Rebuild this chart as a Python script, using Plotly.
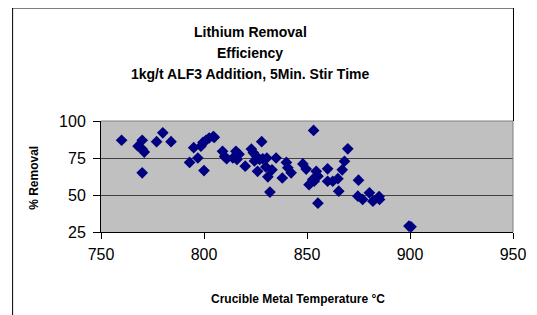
import plotly.graph_objects as go

# Crucible metal temperature (°C)
temperature = [
    760, 770, 768, 770, 771, 770, 777, 780, 784,
    793, 795, 797, 800, 798.5, 799.5, 801, 802.5, 804.5, 805,
    809, 810, 811, 814, 815.5, 817, 816, 820,
    823, 824, 825.5, 824.5, 827, 828.5, 830.5, 828, 826, 830, 831, 833, 835, 832,
    838, 840, 840.7, 842.3,
    848, 849.6, 851, 852.8, 853.5, 854.5, 855.3, 853.2, 855.3,
    860, 860, 862.5, 865, 865.4, 867.1, 868.2, 869.8,
    875, 874.7, 877, 880.3, 882, 885, 885.2,
    899.5, 900.5,
]
# Lithium removal efficiency (%)
removal = [
    87, 87, 83, 81, 79, 65, 86, 92, 86,
    72, 82, 75, 66.5, 83, 85.5, 87, 88.5, 89.5, 89,
    79.5, 76, 74.5, 75, 79.5, 77.5, 74, 69.5,
    81, 78.5, 76, 73, 74, 74.5, 75, 86, 66, 69, 62.3, 67, 75, 52,
    61.5, 72, 68.4, 65,
    71, 67.5, 57, 60.5, 59.3, 66, 62.7, 93.6, 44.5,
    67.7, 59.3, 59.3, 61, 52.6, 67, 72.8, 81.2,
    60, 49.2, 47, 51.5, 45.8, 49, 47,
    29, 28.5,
]

x_ticks = [750, 800, 850, 900, 950]
y_ticks = [25, 50, 75, 100]

title_lines = ["Lithium Removal", "Efficiency", "1kg/t ALF3 Addition, 5Min. Stir Time"]
x_title = "Crucible Metal Temperature °C"
y_title = "% Removal"

FONT = "Liberation Sans, Arial, sans-serif"

# The page body has an 8px margin; the figure is sized to fit the window.
OFF = 8
W, H = 537 - OFF, 315 - OFF
L, T = 101 - OFF, 121 - OFF
R = W - (513.5 - OFF)
B = H - (232.5 - OFF)

fig = go.Figure(
    go.Scatter(
        x=temperature, y=removal, mode="markers",
        marker=dict(symbol="diamond", size=9, color="#000080",
                    line=dict(width=0)),
        hoverinfo="x+y",
    )
)

fig.update_layout(
    width=W, height=H, autosize=False,
    margin=dict(l=L, r=R, t=T, b=B, pad=0, autoexpand=False),
    paper_bgcolor="white", plot_bgcolor="#C0C0C0",
    showlegend=False,
    font=dict(family=FONT, color="black"),
)
fig.update_xaxes(
    range=[750, 950], tickvals=x_ticks, ticktext=[str(v) for v in x_ticks],
    showgrid=False, zeroline=False, automargin=False,
    showline=True, linecolor="black", linewidth=1,
    ticks="outside", ticklen=6, tickcolor="black", tickwidth=1,
    tickfont=dict(size=16, family=FONT, color="black"),
    ticklabelstandoff=2,
)
fig.update_yaxes(
    range=[25, 100], tickvals=y_ticks, ticktext=[str(v) for v in y_ticks],
    showgrid=True, gridcolor="#404040", gridwidth=1, zeroline=False, automargin=False,
    showline=True, linecolor="black", linewidth=1,
    ticks="outside", ticklen=7, tickcolor="black", tickwidth=1,
    tickfont=dict(size=16, family=FONT, color="black"),
    ticklabelstandoff=4,
)

# plot area border (top and right, gray)
fig.add_shape(type="line", xref="paper", yref="paper", x0=0, x1=1, y0=1, y1=1,
              line=dict(color="#808080", width=1), layer="above")
fig.add_shape(type="line", xref="paper", yref="paper", x0=1, x1=1, y0=0, y1=1,
              line=dict(color="#808080", width=1), layer="above")

pw, ph = W - L - R, H - T - B
def px_to_paper_x(px):
    return (px - OFF - L) / pw
def py_to_paper_y(py):
    return (H - B - (py - OFF)) / ph

# outer chart frame
fx0, fx1, fy0 = px_to_paper_x(12.5), px_to_paper_x(514), py_to_paper_y(7.5)
fybot = py_to_paper_y(330)
frame = dict(color="black", width=1)
fig.add_shape(type="line", xref="paper", yref="paper", x0=fx0, x1=fx0, y0=fybot, y1=fy0, line=frame)
fig.add_shape(type="line", xref="paper", yref="paper", x0=fx0, x1=fx1, y0=fy0, y1=fy0, line=frame)
fig.add_shape(type="line", xref="paper", yref="paper", x0=fx1, x1=fx1, y0=fy0, y1=1, line=frame)

# Title lines
for text, py in zip(title_lines, [32, 53, 74]):
    fig.add_annotation(text=f"<b>{text}</b>", xref="paper", yref="paper",
                       x=px_to_paper_x(250.5), y=py_to_paper_y(py),
                       xanchor="center", yanchor="middle", showarrow=False,
                       font=dict(size=14, family=FONT, color="black"))

# Axis titles
fig.add_annotation(text=f"<b>{x_title}</b>", xref="paper", yref="paper",
                   x=px_to_paper_x(298), y=py_to_paper_y(300),
                   xanchor="center", yanchor="middle", showarrow=False,
                   font=dict(size=12, family=FONT, color="black"))
fig.add_annotation(text=f"<b>{y_title}</b>", xref="paper", yref="paper",
                   x=px_to_paper_x(34), y=py_to_paper_y(178),
                   xanchor="center", yanchor="middle", showarrow=False, textangle=-90,
                   font=dict(size=12, family=FONT, color="black"))

fig.write_html("out.html")
